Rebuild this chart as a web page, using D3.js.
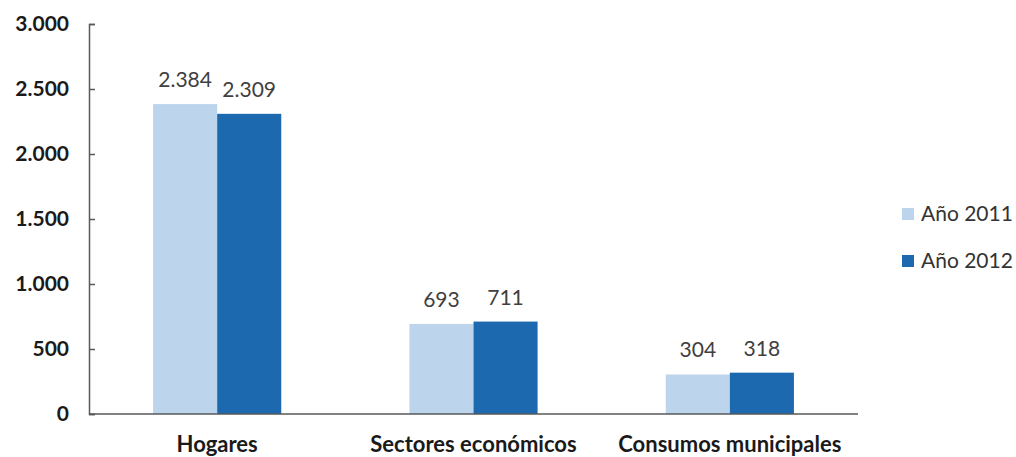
<!DOCTYPE html>
<html>
<head>
  <meta charset="utf-8">
  <script src="https://d3js.org/d3.v7.min.js"></script>
  <style>
    body { margin: 0; background: #fff; }
    text { font-family: Lato, "Open Sans", sans-serif; }
    .axis path, .axis line { stroke: #595959; stroke-width: 1.5; }
    .y.axis text { font-weight: bold; font-size: 21px; fill: #1a1a1a; }
    .cat { font-weight: bold; font-size: 22px; fill: #1a1a1a; }
    .val { font-size: 21px; fill: #404040; }
    .legend text { font-size: 21px; fill: #333; }
  </style>
</head>
<body>
<script>
  // data
  var categories = ['Hogares', 'Sectores económicos', 'Consumos municipales'];
  var series = ['Año 2011', 'Año 2012'];
  var values2011 = [2384, 693, 304];
  var values2012 = [2309, 711, 318];
  var yTicks = [0, 500, 1000, 1500, 2000, 2500, 3000];
  var colors = ['#bdd5ec', '#1c69b0'];

  var width = 1016, height = 457;
  var mLeft = 89, mRight = 858, mTop = 24, mBottom = 414;

  var svg = d3.select('body').append('svg')
    .attr('width', width)
    .attr('height', height);

  var x = d3.scaleBand()
    .domain(categories)
    .range([mLeft, mRight])
    .paddingInner(0.5)
    .paddingOuter(0.25);

  var xs = d3.scaleBand()
    .domain(series)
    .range([0, x.bandwidth()]);

  var y = d3.scaleLinear()
    .domain([0, 3000])
    .range([mBottom, mTop]);

  var fmt = function(v) {
    return d3.format(',')(v).replace(/,/g, '.');
  };

  // y axis, ticks pointing inward
  var yAxis = d3.axisRight(y).tickValues(yTicks).tickSize(6).tickFormat(fmt).tickSizeOuter(6);
  var gy = svg.append('g')
    .attr('class', 'y axis')
    .attr('transform', 'translate(' + mLeft + ',0)')
    .call(yAxis);
  gy.selectAll('text')
    .attr('x', -20)
    .attr('text-anchor', 'end');

  var rows = categories.map(function(c, i) {
    return { cat: c, vals: [values2011[i], values2012[i]] };
  });

  var groups = svg.selectAll('.grp')
    .data(rows)
    .enter().append('g')
    .attr('class', 'grp')
    .attr('transform', function(d) { return 'translate(' + x(d.cat) + ',0)'; });

  groups.selectAll('rect')
    .data(function(d) { return d.vals.map(function(v, j) { return { s: series[j], v: v, j: j }; }); })
    .enter().append('rect')
    .attr('x', function(d) { return xs(d.s); })
    .attr('width', xs.bandwidth())
    .attr('y', function(d) { return y(d.v); })
    .attr('height', function(d) { return mBottom - y(d.v); })
    .attr('fill', function(d) { return colors[d.j]; });

  groups.selectAll('.val')
    .data(function(d) { return d.vals.map(function(v, j) { return { s: series[j], v: v }; }); })
    .enter().append('text')
    .attr('class', 'val')
    .attr('x', function(d) { return xs(d.s) + xs.bandwidth() / 2; })
    .attr('y', function(d) { return y(d.v) - 17; })
    .attr('text-anchor', 'middle')
    .text(function(d) { return fmt(d.v); });

  // x axis line
  svg.append('line')
    .attr('x1', mLeft).attr('x2', mRight)
    .attr('y1', mBottom).attr('y2', mBottom)
    .attr('stroke', '#595959')
    .attr('stroke-width', 1.5);

  svg.selectAll('.cat')
    .data(categories)
    .enter().append('text')
    .attr('class', 'cat')
    .attr('x', function(d) { return x(d) + x.bandwidth() / 2; })
    .attr('y', 452)
    .attr('text-anchor', 'middle')
    .text(function(d) { return d; });

  // legend
  var legend = svg.append('g')
    .attr('class', 'legend')
    .attr('transform', 'translate(902,208)')
    .selectAll('g')
    .data(series)
    .enter().append('g')
    .attr('transform', function(d, i) { return 'translate(0,' + i * 47 + ')'; });

  legend.append('rect')
    .attr('width', 12).attr('height', 12)
    .attr('fill', function(d, i) { return colors[i]; });

  legend.append('text')
    .attr('x', 19).attr('y', 13)
    .text(function(d) { return d; });
</script>
</body>
</html>
